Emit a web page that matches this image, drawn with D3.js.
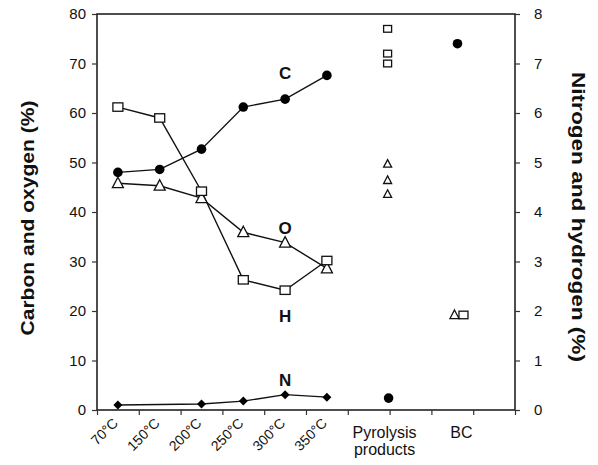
<!DOCTYPE html>
<html>
<head>
<meta charset="utf-8">
<script src="https://cdn.jsdelivr.net/npm/d3@7"></script>
<style>
  body { margin: 0; background: #fff; }
  svg { font-family: "Liberation Sans", Arial, sans-serif; }
</style>
</head>
<body>
<div id="chart"></div>
<script>
// temperature series (x positions on a 0..10 axis, ticks every 1)
const temps = ["70°C", "150°C", "200°C", "250°C", "300°C", "350°C"];
const tempX = [0.5, 1.5, 2.5, 3.5, 4.5, 5.5];

// carbon and oxygen on left axis (%)
const carbon = [48, 48.6, 52.7, 61.2, 62.8, 67.6];
const oxygen = [45.8, 45.3, 42.8, 35.9, 33.8, 28.6];
// hydrogen and nitrogen on right axis (%)
const hydrogen = [6.12, 5.9, 4.42, 2.63, 2.42, 3.02];
const nitrogen = [0.1, null, 0.12, 0.18, 0.31, 0.26];

// isolated points
const pyroX = 7, bcX = 8.6;
const pyroH = [7.7, 7.2, 7.0];
const pyroO = [49.7, 46.4, 43.6];
const pyroN = [0.24];
const bcC = [74];
const bcO = [19.2];
const bcH = [1.92];

const leftTicks = [0, 10, 20, 30, 40, 50, 60, 70, 80];
const rightTicks = [0, 1, 2, 3, 4, 5, 6, 7, 8];

// element labels, placed in left-axis units
const elNames = ["C", "O", "H", "N"];
const elPos = [66.8, 35.6, 17.8, 4.8];

const margin = {top: 14, right: 83, bottom: 55, left: 97},
  width = 598 - margin.left - margin.right,
  height = 465 - margin.top - margin.bottom;

const svg = d3.select("#chart").append("svg")
  .attr("width", 598).attr("height", 465)
  .append("g")
  .attr("transform", `translate(${margin.left},${margin.top})`);

const x = d3.scaleLinear().domain([0, 10]).range([0, width]);
const yL = d3.scaleLinear().domain([0, 80]).range([height, 0]);
const yR = d3.scaleLinear().domain([0, 8]).range([height, 0]);

// frame
svg.append("rect").attr("width", width).attr("height", height)
  .attr("fill", "none").attr("stroke", "#222").attr("stroke-width", 1.6);

// axes
const axL = svg.append("g").call(d3.axisLeft(yL).tickValues(leftTicks).tickSize(5).tickPadding(6));
const axR = svg.append("g").attr("transform", `translate(${width},0)`)
  .call(d3.axisRight(yR).tickValues(rightTicks).tickSize(5).tickPadding(14));
const axB = svg.append("g").attr("transform", `translate(0,${height})`)
  .call(d3.axisBottom(x).tickValues(d3.range(0, 11)).tickSize(5).tickFormat(""));
[axL, axR, axB].forEach(a => {
  a.select(".domain").remove();
  a.selectAll("line").attr("stroke", "#333").attr("stroke-width", 1.2);
  a.selectAll("text").attr("font-size", 15).attr("fill", "#111")
    .attr("font-family", "Liberation Sans, Arial, sans-serif");
});

// x labels
svg.selectAll(".tlab").data(temps).join("text")
  .attr("class", "tlab")
  .attr("transform", (d, i) => `translate(${x(tempX[i]) + 1},${height + 14}) rotate(-45)`)
  .attr("text-anchor", "end")
  .attr("font-size", 14).attr("fill", "#111")
  .text(d => d);
svg.append("text").attr("x", x(pyroX) - 5).attr("y", height + 28)
  .attr("text-anchor", "middle").attr("font-size", 16).attr("fill", "#111").text("Pyrolysis");
svg.append("text").attr("x", x(pyroX) - 5).attr("y", height + 45)
  .attr("text-anchor", "middle").attr("font-size", 16).attr("fill", "#111").text("products");
svg.append("text").attr("x", x(bcX) + 5).attr("y", height + 28)
  .attr("text-anchor", "middle").attr("font-size", 16).attr("fill", "#111").text("BC");

// axis titles
svg.append("text")
  .attr("transform", `translate(${-63},${height / 2 + 6}) rotate(-90)`)
  .attr("text-anchor", "middle").attr("font-size", 18).attr("font-weight", "bold")
  .attr("textLength", 235).attr("lengthAdjust", "spacingAndGlyphs")
  .attr("fill", "#111").text("Carbon and oxygen (%)");
svg.append("text")
  .attr("transform", `translate(${width + 57},${height / 2 + 5}) rotate(90)`)
  .attr("text-anchor", "middle").attr("font-size", 18).attr("font-weight", "bold")
  .attr("textLength", 290).attr("lengthAdjust", "spacingAndGlyphs")
  .attr("fill", "#111").text("Nitrogen and hydrogen (%)");

// lines
function series(vals, y) {
  return vals.map((v, i) => ({x: tempX[i], v: v})).filter(d => d.v !== null)
    .map(d => [x(d.x), y(d.v)]);
}
const lineGen = d3.line();
[[carbon, yL], [oxygen, yL], [hydrogen, yR], [nitrogen, yR]].forEach(([vals, y]) => {
  svg.append("path").attr("d", lineGen(series(vals, y)))
    .attr("fill", "none").attr("stroke", "#111").attr("stroke-width", 1.4);
});

// marker helpers
function circles(pts) {
  svg.append("g").selectAll("circle").data(pts).join("circle")
    .attr("cx", d => d[0]).attr("cy", d => d[1]).attr("r", 4.8).attr("fill", "#000");
}
function squares(pts, s) {
  svg.append("g").selectAll("rect").data(pts).join("rect")
    .attr("x", d => d[0] - s / 2).attr("y", d => d[1] - s * 0.42)
    .attr("width", s).attr("height", s * 0.84)
    .attr("fill", "#fff").attr("stroke", "#111").attr("stroke-width", 1.3);
}
function triangles(pts, s) {
  svg.append("g").selectAll("path").data(pts).join("path")
    .attr("d", d => `M${d[0]},${d[1] - s * 0.55}L${d[0] + s / 2},${d[1] + s * 0.4}L${d[0] - s / 2},${d[1] + s * 0.4}Z`)
    .attr("fill", "#fff").attr("stroke", "#111").attr("stroke-width", 1.3);
}
function diamonds(pts, s) {
  svg.append("g").selectAll("path").data(pts).join("path")
    .attr("d", d => `M${d[0]},${d[1] - s}L${d[0] + s},${d[1]}L${d[0]},${d[1] + s}L${d[0] - s},${d[1]}Z`)
    .attr("fill", "#000");
}

circles(series(carbon, yL));
triangles(series(oxygen, yL), 11);
squares(series(hydrogen, yR), 10);
diamonds(series(nitrogen, yR), 4.5);

squares(pyroH.map(v => [x(pyroX) - 2, yR(v)]), 8);
triangles(pyroO.map(v => [x(pyroX) - 2, yL(v)]), 8);
circles(pyroN.map(v => [x(pyroX) - 1, yR(v)]));
circles(bcC.map(v => [x(bcX) + 1, yL(v)]));
triangles(bcO.map(v => [x(bcX) - 2, yL(v)]), 9);
squares(bcH.map(v => [x(bcX) + 7, yR(v)]), 9);

// element labels
svg.selectAll(".el").data(elNames).join("text")
  .attr("class", "el")
  .attr("x", x(4.5)).attr("y", (d, i) => yL(elPos[i]))
  .attr("text-anchor", "middle").attr("font-size", 17).attr("font-weight", "bold")
  .attr("fill", "#111").text(d => d);
</script>
</body>
</html>
